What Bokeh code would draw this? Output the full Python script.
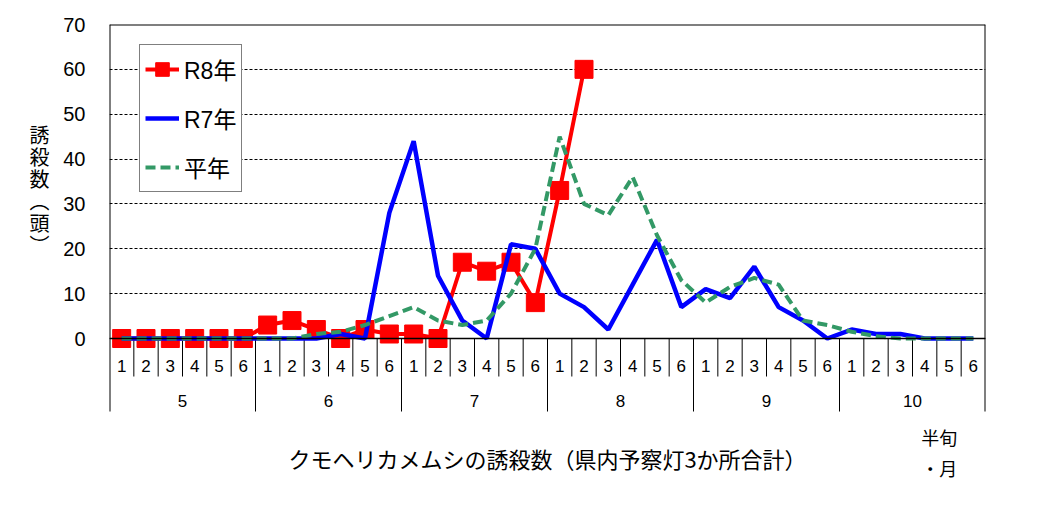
from bokeh.plotting import figure
from bokeh.layouts import row
from bokeh.models import (FactorRange, Range1d, Span, Label, Legend, LegendItem,
                          ColumnDataSource)
from bokeh.core.properties import value
from bokeh.embed import file_html
from bokeh.resources import INLINE

# ---------------- data ----------------
months = ["5", "6", "7", "8", "9", "10"]
halves = ["1", "2", "3", "4", "5", "6"]
series_names = ["R8年", "R7年", "平年"]
r8 = [0, 0, 0, 0, 0, 0, 3, 4, 2, 0, 2, 1, 1, 0, 17, 15, 17, 8, 33, 60]
r7 = [0, 0, 0, 0, 0, 0, 0, 0, 0, 1, 0, 28, 44, 14, 4, 0, 21, 20,
      10, 7, 2, 12, 22, 7, 11, 9, 16, 7, 4, 0, 2, 1, 1, 0, 0, 0]
avg = [0, 0, 0, 0, 0, 0, 0, 0, 1, 1.5, 3, 5, 7, 4, 3, 4, 10, 20,
       45, 30, 27.5, 36, 23, 13, 8, 11.5, 13.5, 12, 4, 3, 1.5, 0.5, 0, 0, 0, 0]
yticks = [0, 10, 20, 30, 40, 50, 60, 70]
x_title = "クモヘリカメムシの誘殺数（県内予察灯3か所合計）"
y_title = "誘殺数（頭）"
unit_label = "半旬\n・月"

# ---------------- layout ----------------
LAB_W = 60
FRAME_W, FRAME_H = 876, 475
PLOT_H = 314                       # pixels from 0 to 70
TABLE_H = FRAME_H - PLOT_H         # pixels below the zero line
TOP = 24
YMAX = yticks[-1]
y_start = -TABLE_H * YMAX / PLOT_H
FIG_H = TOP + FRAME_H

factors = [(m, h) for m in months for h in halves]
n = len(factors)

JP = "'Noto Sans CJK JP', sans-serif"
LAT = "'Liberation Sans', 'Noto Sans CJK JP', sans-serif"
NARROW = "'Liberation Sans Narrow', 'Liberation Sans', sans-serif"

# left strip carrying the vertical axis title
lab = figure(width=LAB_W, height=FIG_H, x_range=Range1d(0, LAB_W),
             y_range=Range1d(FIG_H, 0), min_border=0,
             output_backend="svg", toolbar_location=None)
lab.axis.visible = False
lab.grid.visible = False
lab.outline_line_color = None
vert = "\n".join(y_title.replace("（", "︵").replace("）", "︶"))
lab.add_layout(Label(x=39, y=173, text=vert,
                     text_align="center", text_baseline="middle",
                     text_font=JP, text_font_size="20px", text_line_height=0.76,
                     text_color="black"))

p = figure(
    x_range=FactorRange(*factors, factor_padding=0, subgroup_padding=0,
                        group_padding=0, range_padding=0),
    y_range=Range1d(y_start, YMAX),
    width=(109 - LAB_W) + FRAME_W + 10, height=FIG_H,
    min_border_left=109 - LAB_W, min_border_right=10, min_border_top=TOP,
    min_border_bottom=0,
    output_backend="svg", toolbar_location=None,
)
p.extra_y_ranges = {"table": Range1d(start=TABLE_H, end=-PLOT_H)}
p.outline_line_color = None

p.xaxis.visible = False
p.xgrid.visible = False
p.yaxis.ticker = yticks
p.yaxis.axis_line_color = None
p.yaxis.major_tick_line_color = None
p.yaxis.minor_tick_line_color = None
p.yaxis.major_label_standoff = 18
p.yaxis.major_label_text_font = LAT
p.yaxis.major_label_text_font_size = "20px"
p.yaxis.major_label_text_color = "black"
p.ygrid.grid_line_color = "black"
p.ygrid.grid_line_width = 1
p.ygrid.grid_line_dash = "3 2"

# frame top / bottom
p.add_layout(Span(location=YMAX, dimension="width", line_color="black", line_width=2))
p.add_layout(Span(location=0, dimension="width", line_color="black", line_width=1.5))

# frame sides + table lines (table coordinates: pixels below the zero line)
side_x = [0, n]
p.segment(x0=side_x, x1=side_x, y0=[-PLOT_H] * 2, y1=[73] * 2,
          y_range_name="table", line_color="black", line_width=2)
half_x = [i for i in range(1, n) if i % len(halves) != 0]
p.segment(x0=half_x, x1=half_x, y0=[0] * len(half_x), y1=[38] * len(half_x),
          y_range_name="table", line_color="black", line_width=1)
month_x = [i for i in range(len(halves), n, len(halves))]
p.segment(x0=month_x, x1=month_x, y0=[0] * len(month_x), y1=[73] * len(month_x),
          y_range_name="table", line_color="black", line_width=1)

p.text(x=factors, y=[27] * n, text=[h for m in months for h in halves],
       y_range_name="table", text_align="center", text_baseline="middle",
       text_font=value(NARROW), text_font_size="17px", text_color="black")
p.text(x=months, y=[62] * len(months), text=months,
       y_range_name="table", text_align="center", text_baseline="middle",
       text_font=value(NARROW), text_font_size="17px", text_color="black")

# ---------------- series ----------------
src8 = ColumnDataSource(dict(x=factors[:len(r8)], y=r8))
src = ColumnDataSource(dict(x=factors, r7=r7, avg=avg))

l8 = p.line("x", "y", source=src8, line_color="#FF0000", line_width=4)
s8 = p.scatter("x", "y", source=src8, marker="square", size=18,
               fill_color="#FF0000", line_color="#FF0000")
l7 = p.line("x", "r7", source=src, line_color="#0000FF", line_width=4.5)
la = p.line("x", "avg", source=src, line_color="#339966", line_width=4,
            line_dash="10 5")

legend = Legend(
    items=[LegendItem(label=series_names[0], renderers=[l8, s8]),
           LegendItem(label=series_names[1], renderers=[l7]),
           LegendItem(label=series_names[2], renderers=[la])],
    location=(30, 307),
    padding=5, spacing=11, margin=0,
    label_height=38, glyph_height=38, glyph_width=34, label_standoff=5,
    border_line_color="black", border_line_width=1.2,
    background_fill_color="white", background_fill_alpha=1,
    label_text_font=LAT, label_text_font_size="23px", label_text_color="black",
)
p.add_layout(legend)

# ---------------- titles ----------------
p.add_layout(Label(x=n / 2, y=119, y_range_name="table", text=x_title,
                   text_align="center", text_baseline="middle",
                   text_font=JP, text_font_size="22px", text_color="black"))
p.add_layout(Label(x=34.1, y=114, y_range_name="table", text=unit_label,
                   text_align="center", text_baseline="middle",
                   text_font=JP, text_font_size="18px", text_line_height=1.2,
                   text_color="black"))

open("out.html", "w").write(file_html(row(lab, p), INLINE))
